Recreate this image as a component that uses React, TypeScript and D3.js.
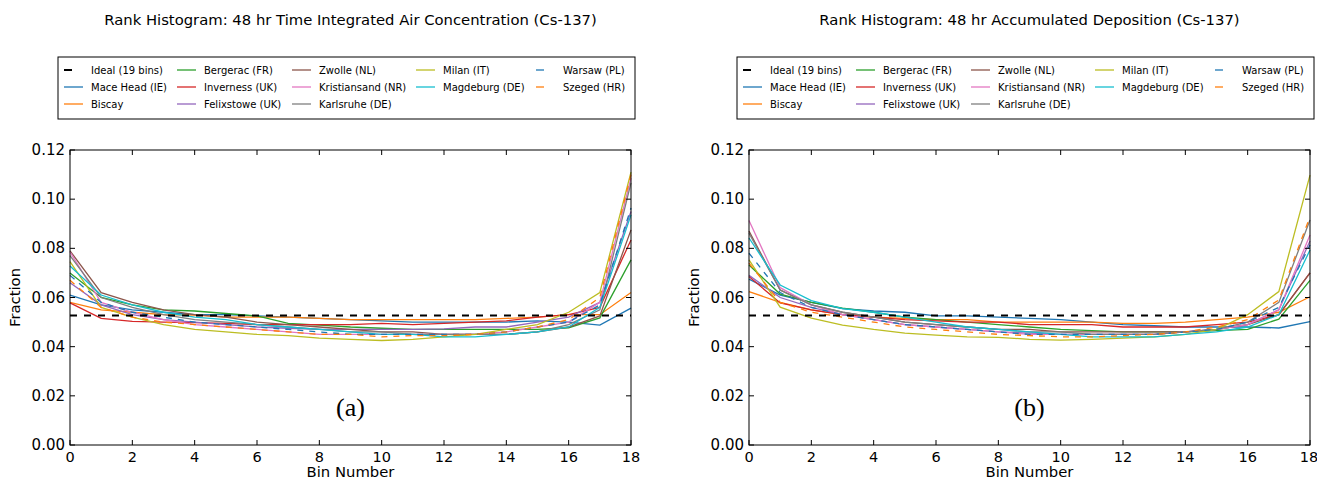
import React from "react";
import * as d3 from "d3";

const bins = d3.range(0, 19);
const xTicks = [0, 2, 4, 6, 8, 10, 12, 14, 16, 18];
const yTicks = [0, 0.02, 0.04, 0.06, 0.08, 0.1, 0.12];
const idealValue = 1 / 19;

const seriesNames = [
  "Mace Head (IE)", "Biscay", "Bergerac (FR)", "Inverness (UK)", "Felixstowe (UK)",
  "Zwolle (NL)", "Kristiansand (NR)", "Karlsruhe (DE)", "Milan (IT)", "Magdeburg (DE)",
  "Warsaw (PL)", "Szeged (HR)",
];
const seriesColors = [
  "#1f77b4", "#ff7f0e", "#2ca02c", "#d62728", "#9467bd",
  "#8c564b", "#e377c2", "#7f7f7f", "#bcbd22", "#17becf",
  "#1f77b4", "#ff7f0e",
];
const seriesDashed = [false, false, false, false, false, false, false, false, false, false, true, true];

// Panel (a): 48 hr Time Integrated Air Concentration
const airMaceHead = [0.061, 0.057, 0.055, 0.054, 0.053, 0.053, 0.0525, 0.052, 0.0515, 0.051, 0.0505, 0.050, 0.050, 0.050, 0.050, 0.0505, 0.050, 0.0488, 0.0557];
const airBiscay = [0.058, 0.055, 0.054, 0.053, 0.0528, 0.052, 0.052, 0.052, 0.0515, 0.051, 0.051, 0.051, 0.051, 0.051, 0.0515, 0.052, 0.053, 0.053, 0.062];
const airBergerac = [0.070, 0.060, 0.057, 0.055, 0.0545, 0.0535, 0.0525, 0.0495, 0.0488, 0.048, 0.0475, 0.047, 0.047, 0.047, 0.047, 0.047, 0.0477, 0.0517, 0.0753];
const airInverness = [0.0578, 0.0515, 0.0503, 0.050, 0.0498, 0.0495, 0.049, 0.049, 0.049, 0.049, 0.0495, 0.049, 0.0495, 0.050, 0.0505, 0.052, 0.053, 0.056, 0.0834];
const airFelixstowe = [0.066, 0.057, 0.053, 0.051, 0.050, 0.049, 0.048, 0.0475, 0.047, 0.047, 0.047, 0.047, 0.0472, 0.048, 0.048, 0.050, 0.052, 0.058, 0.095];
const airZwolle = [0.079, 0.062, 0.058, 0.055, 0.053, 0.052, 0.050, 0.049, 0.048, 0.047, 0.046, 0.046, 0.045, 0.045, 0.045, 0.046, 0.048, 0.0525, 0.0875];
const airKristiansand = [0.0785, 0.058, 0.054, 0.051, 0.049, 0.048, 0.047, 0.046, 0.045, 0.045, 0.045, 0.045, 0.045, 0.045, 0.046, 0.048, 0.050, 0.058, 0.1086];
const airKarlsruhe = [0.077, 0.060, 0.056, 0.053, 0.051, 0.050, 0.049, 0.048, 0.047, 0.046, 0.046, 0.045, 0.045, 0.045, 0.045, 0.046, 0.049, 0.055, 0.1066];
const airMilan = [0.0746, 0.056, 0.052, 0.049, 0.047, 0.046, 0.045, 0.0445, 0.0435, 0.043, 0.0425, 0.043, 0.044, 0.045, 0.047, 0.049, 0.054, 0.062, 0.111];
const airMagdeburg = [0.0728, 0.061, 0.057, 0.054, 0.052, 0.051, 0.049, 0.048, 0.047, 0.046, 0.045, 0.045, 0.044, 0.044, 0.045, 0.046, 0.048, 0.056, 0.0936];
const airWarsaw = [0.069, 0.058, 0.054, 0.052, 0.050, 0.049, 0.048, 0.047, 0.046, 0.045, 0.045, 0.045, 0.045, 0.045, 0.046, 0.048, 0.050, 0.057, 0.0964];
const airSzeged = [0.067, 0.056, 0.052, 0.050, 0.049, 0.048, 0.047, 0.046, 0.045, 0.045, 0.044, 0.0445, 0.0445, 0.045, 0.046, 0.048, 0.051, 0.060, 0.110];

// Panel (b): 48 hr Accumulated Deposition
const depMaceHead = [0.0675, 0.061, 0.058, 0.0555, 0.0545, 0.054, 0.0525, 0.0525, 0.052, 0.0515, 0.051, 0.050, 0.049, 0.0485, 0.048, 0.048, 0.048, 0.0476, 0.0502];
const depBiscay = [0.0624, 0.058, 0.055, 0.053, 0.052, 0.0515, 0.051, 0.051, 0.050, 0.050, 0.050, 0.050, 0.0495, 0.0495, 0.050, 0.051, 0.052, 0.054, 0.0603];
const depBergerac = [0.0732, 0.0614, 0.058, 0.0557, 0.054, 0.052, 0.051, 0.050, 0.049, 0.048, 0.047, 0.0465, 0.046, 0.046, 0.046, 0.0465, 0.047, 0.0512, 0.067];
const depInverness = [0.0685, 0.0578, 0.055, 0.053, 0.052, 0.051, 0.0505, 0.050, 0.050, 0.049, 0.049, 0.049, 0.048, 0.048, 0.048, 0.049, 0.050, 0.0529, 0.070];
const depFelixstowe = [0.069, 0.060, 0.056, 0.053, 0.051, 0.049, 0.048, 0.047, 0.046, 0.0455, 0.045, 0.045, 0.045, 0.045, 0.046, 0.047, 0.049, 0.055, 0.083];
const depZwolle = [0.087, 0.063, 0.057, 0.054, 0.052, 0.050, 0.049, 0.048, 0.047, 0.047, 0.046, 0.046, 0.046, 0.046, 0.046, 0.047, 0.049, 0.053, 0.070];
const depKristiansand = [0.0913, 0.064, 0.057, 0.053, 0.051, 0.049, 0.048, 0.047, 0.046, 0.045, 0.045, 0.045, 0.045, 0.045, 0.046, 0.047, 0.049, 0.055, 0.0854];
const depKarlsruhe = [0.0862, 0.063, 0.057, 0.054, 0.052, 0.050, 0.049, 0.048, 0.047, 0.046, 0.046, 0.045, 0.045, 0.045, 0.046, 0.047, 0.050, 0.058, 0.0915];
const depMilan = [0.0753, 0.0561, 0.0516, 0.0488, 0.047, 0.0455, 0.0447, 0.044, 0.0438, 0.043, 0.0427, 0.043, 0.0435, 0.044, 0.045, 0.047, 0.053, 0.0624, 0.1098];
const depMagdeburg = [0.0842, 0.0651, 0.0587, 0.0555, 0.054, 0.052, 0.050, 0.048, 0.047, 0.046, 0.045, 0.044, 0.044, 0.044, 0.045, 0.046, 0.048, 0.053, 0.0793];
const depWarsaw = [0.078, 0.062, 0.056, 0.053, 0.051, 0.049, 0.048, 0.047, 0.046, 0.045, 0.045, 0.045, 0.045, 0.045, 0.046, 0.047, 0.050, 0.056, 0.0814];
const depSzeged = [0.074, 0.058, 0.054, 0.052, 0.050, 0.048, 0.047, 0.046, 0.045, 0.0445, 0.044, 0.044, 0.0445, 0.045, 0.046, 0.048, 0.051, 0.059, 0.0929];

const airSeries = [airMaceHead, airBiscay, airBergerac, airInverness, airFelixstowe, airZwolle, airKristiansand, airKarlsruhe, airMilan, airMagdeburg, airWarsaw, airSzeged];
const depSeries = [depMaceHead, depBiscay, depBergerac, depInverness, depFelixstowe, depZwolle, depKristiansand, depKarlsruhe, depMilan, depMagdeburg, depWarsaw, depSzeged];

const W = 1317;
const H = 480;
const FONT = "DejaVu Sans, sans-serif";

const legendItems = [
  { name: "Ideal (19 bins)", color: "#000", dashed: true, ideal: true },
  ...seriesNames.map((n, i) => ({ name: n, color: seriesColors[i], dashed: seriesDashed[i], ideal: false })),
];
// matplotlib ncol=5 with 13 entries: column sizes 3,3,3,2,2
const legendColSizes = [3, 3, 3, 2, 2];
const legendColText = [91, 204, 319, 443, 563];
const legendRowY = [70, 87, 104];

function legendPos(k: number) {
  let start = 0;
  for (let c = 0; c < legendColSizes.length; c++) {
    if (k < start + legendColSizes[c]) return { col: c, row: k - start };
    start += legendColSizes[c];
  }
  return { col: 0, row: 0 };
}

function Panel({ left, title, data, label }: { left: number; title: string; data: number[][]; label: string }) {
  const plotW = 561;
  const top = 150;
  const bottom = 445;
  const x = d3.scaleLinear().domain([0, 18]).range([left, left + plotW]);
  const y = d3.scaleLinear().domain([0, 0.12]).range([bottom, top]);
  const line = d3.line<number>().x((_, i) => x(bins[i])).y((v) => y(v));
  const off = left - 70;
  const cx = left + plotW / 2;
  return (
    <g>
      <text x={cx} y={25} textAnchor="middle" fontFamily={FONT} fontSize={14.8} fill="#000">{title}</text>
      {/* legend */}
      <rect x={58 + off} y={57} width={577} height={62} fill="#fff" stroke="#000" strokeWidth={1} />
      {legendItems.map((it, k) => {
        const { col, row } = legendPos(k);
        const tx = legendColText[col] + off;
        const ly = legendRowY[row];
        return (
          <g key={k}>
            <line x1={tx - 27} x2={tx - 8} y1={ly} y2={ly} stroke={it.color}
              strokeWidth={it.ideal ? 2 : 1.3} strokeDasharray={it.dashed ? "8,20" : undefined} />
            <text x={tx} y={ly + 3.6} fontFamily={FONT} fontSize={10} fill="#000">{it.name}</text>
          </g>
        );
      })}
      <defs>
        <clipPath id={"clip" + label}>
          <rect x={left} y={top} width={plotW} height={bottom - top} />
        </clipPath>
      </defs>
      <g clipPath={`url(#clip${label})`}>
        {data.map((s, i) => (
          <path key={i} d={line(s) || ""} fill="none" stroke={seriesColors[i]} strokeWidth={1.3}
            strokeDasharray={seriesDashed[i] ? "6,6" : undefined} />
        ))}
        <line x1={x(0)} x2={x(18)} y1={y(idealValue)} y2={y(idealValue)} stroke="#000" strokeWidth={2} strokeDasharray="7,7" />
      </g>
      <text x={x(9)} y={416} textAnchor="middle" fontFamily="Liberation Serif, DejaVu Serif, serif" fontSize={26} fill="#000">{label}</text>
      {/* frame */}
      <rect x={left} y={top} width={plotW} height={bottom - top} fill="none" stroke="#000" strokeWidth={1} />
      {xTicks.map((t) => (
        <g key={"x" + t}>
          <line x1={x(t)} x2={x(t)} y1={bottom} y2={bottom - 5} stroke="#000" />
          <line x1={x(t)} x2={x(t)} y1={top} y2={top + 5} stroke="#000" />
          <text x={t === 18 && left > 700 ? x(t) - 1 : x(t)} y={bottom + 17} textAnchor="middle" fontFamily={FONT} fontSize={14.5} fill="#000">{t}</text>
        </g>
      ))}
      {yTicks.map((t) => (
        <g key={"y" + t}>
          <line x1={left} x2={left + 5} y1={y(t)} y2={y(t)} stroke="#000" />
          <line x1={left + plotW} x2={left + plotW - 5} y1={y(t)} y2={y(t)} stroke="#000" />
          <text x={left - 5} y={y(t) + 5} textAnchor="end" fontFamily={FONT} fontSize={15} fill="#000">{d3.format(".2f")(t)}</text>
        </g>
      ))}
      <text x={cx} y={477} textAnchor="middle" fontFamily={FONT} fontSize={14.8} fill="#000">Bin Number</text>
      <text transform={`translate(${left - 50},${(top + bottom) / 2}) rotate(-90)`} textAnchor="middle" fontFamily={FONT} fontSize={14.8} fill="#000">Fraction</text>
    </g>
  );
}

export default function App() {
  return (
    <svg width={W} height={H} style={{ position: "absolute", left: 0, top: 0, background: "#fff" }}>
      <rect x={0} y={0} width={W} height={H} fill="#fff" />
      <Panel left={70} title="Rank Histogram: 48 hr Time Integrated Air Concentration (Cs-137)" data={airSeries} label="(a)" />
      <Panel left={749} title="Rank Histogram: 48 hr Accumulated Deposition (Cs-137)" data={depSeries} label="(b)" />
    </svg>
  );
}
